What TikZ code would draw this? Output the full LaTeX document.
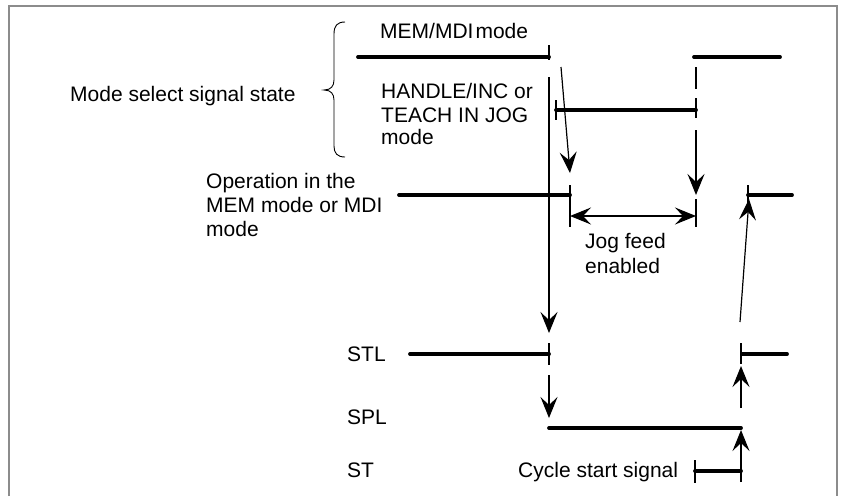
\documentclass[tikz,border=0pt]{standalone}
\usepackage{fontspec}
\setmainfont{Liberation Sans}
\usetikzlibrary{arrows.meta}
\begin{document}
\begin{tikzpicture}[x=1pt,y=-1pt,
  lbl/.style={anchor=base west, inner sep=0pt, font=\fontsize{21}{24}\selectfont},
  sig/.style={line width=3.8pt, line cap=round},
  thinline/.style={line width=1.2pt},
  arr/.style={thinline, -{Stealth[length=21pt,width=17pt,inset=8pt]}},
  darr/.style={thinline, {Stealth[length=21pt,width=17pt,inset=8pt]}-{Stealth[length=21pt,width=17pt,inset=8pt]}},
]
\useasboundingbox (0,0) rectangle (848,496);
% frame
\coordinate (f1) at (9,496);
\coordinate (f2) at (9,6);
\coordinate (f3) at (837,6);
\coordinate (f4) at (837,496);
\draw[black!45, line width=1.5pt] (f1) -- (f2) -- (f3) -- (f4);

% labels
\node[lbl] (tmode) at (70,101) {Mode select signal state};
\node[lbl] (tmem) at (380,38) {MEM/MDI\hspace{2pt}mode};
\node[lbl] (th1) at (381,98) {HANDLE/INC or};
\node[lbl] (th2) at (381,122) {TEACH IN JOG};
\node[lbl] (th3) at (381,144) {mode};
\node[lbl] (to1) at (206,188) {Operation in the};
\node[lbl] (to2) at (206,212) {MEM mode or MDI};
\node[lbl] (to3) at (206,236) {mode};
\node[lbl] (tj1) at (585,248) {Jog feed};
\node[lbl] (tj2) at (585,273) {enabled};
\node[lbl] (tstl) at (347,361) {STL};
\node[lbl] (tspl) at (347,424) {SPL};
\node[lbl] (tst) at (347,477) {ST};
\node[lbl] (tcs) at (518,477) {Cycle start signal};

% brace
\draw[line width=0.9pt] (345,22) .. controls (337,22) and (334,26) .. (334,34) -- (334,80)
  .. controls (334,86) and (331,90) .. (324,90) .. controls (331,90) and (334,94) .. (334,100)
  -- (334,146) .. controls (334,153) and (337,157) .. (345,157);

% signal levels
\coordinate (m1a) at (358,57);  \coordinate (m1b) at (549,57);
\coordinate (m2a) at (694,57);  \coordinate (m2b) at (780,57);
\coordinate (ha) at (556,110);  \coordinate (hb) at (696,110);
\coordinate (o1a) at (399,195); \coordinate (o1b) at (570,195);
\coordinate (o2a) at (748,195); \coordinate (o2b) at (792,195);
\coordinate (s1a) at (410,354); \coordinate (s1b) at (549,354);
\coordinate (s2a) at (742,354); \coordinate (s2b) at (787,354);
\coordinate (pa) at (549,428);  \coordinate (pb) at (741,428);
\coordinate (ca) at (695,471);  \coordinate (cb) at (741,471);
\draw[sig] (m1a) -- (m1b);
\draw[sig] (m2a) -- (m2b);
\draw[sig] (ha) -- (hb);
\draw[sig] (o1a) -- (o1b);
\draw[sig] (o2a) -- (o2b);
\draw[sig] (s1a) -- (s1b);
\draw[sig] (s2a) -- (s2b);
\draw[sig] (pa) -- (pb);
\draw[sig] (ca) -- (cb);

% x = 549 line
\coordinate (a1t) at (549,45);  \coordinate (a1b) at (549,60);
\coordinate (a2t) at (549,77);  \coordinate (a2b) at (549,333);
\coordinate (a3t) at (549,343); \coordinate (a3b) at (549,365);
\coordinate (a4t) at (549,375); \coordinate (a4b) at (549,418);
\draw[thinline] (a1t) -- (a1b);
\draw[arr] (a2t) -- (a2b);
\draw[thinline] (a3t) -- (a3b);
\draw[arr] (a4t) -- (a4b);

% handle start tick
\coordinate (h1t) at (556,100); \coordinate (h1b) at (556,120);
\draw[thinline] (h1t) -- (h1b);

% slanted arrow to operation end
\coordinate (sl1a) at (561,67); \coordinate (sl1b) at (570,173);
\draw[arr] (sl1a) -- (sl1b);

% operation end tick & jog feed
\coordinate (o1t) at (570,185); \coordinate (o1d) at (570,227);
\draw[thinline] (o1t) -- (o1d);
\coordinate (ja) at (570,216); \coordinate (jb) at (696,216);
\draw[darr] (ja) -- (jb);

% x = 696 line
\coordinate (b1t) at (696,67);  \coordinate (b1b) at (696,89);
\coordinate (b2t) at (696,98);  \coordinate (b2b) at (696,118);
\coordinate (b3t) at (696,130); \coordinate (b3b) at (696,195);
\coordinate (b4t) at (696,199); \coordinate (b4b) at (696,227);
\draw[thinline] (b1t) -- (b1b);
\draw[thinline] (b2t) -- (b2b);
\draw[arr] (b3t) -- (b3b);
\draw[thinline] (b4t) -- (b4b);

% operation resume
\coordinate (o2t) at (748,185); \coordinate (o2d) at (748,206);
\draw[thinline] (o2t) -- (o2d);
\coordinate (sl2a) at (740,322); \coordinate (sl2b) at (749,199);
\draw[arr] (sl2a) -- (sl2b);

% x = 741 line
\coordinate (c1t) at (741,343); \coordinate (c1b) at (741,364);
\coordinate (c2t) at (741,408); \coordinate (c2b) at (741,366);
\coordinate (c3t) at (741,482); \coordinate (c3b) at (741,430);
\draw[thinline] (c1t) -- (c1b);
\draw[arr] (c2t) -- (c2b);
\draw[arr] (c3t) -- (c3b);

% cycle start tick
\coordinate (d1t) at (695,460); \coordinate (d1b) at (695,483);
\draw[thinline] (d1t) -- (d1b);
\end{tikzpicture}
\end{document}
